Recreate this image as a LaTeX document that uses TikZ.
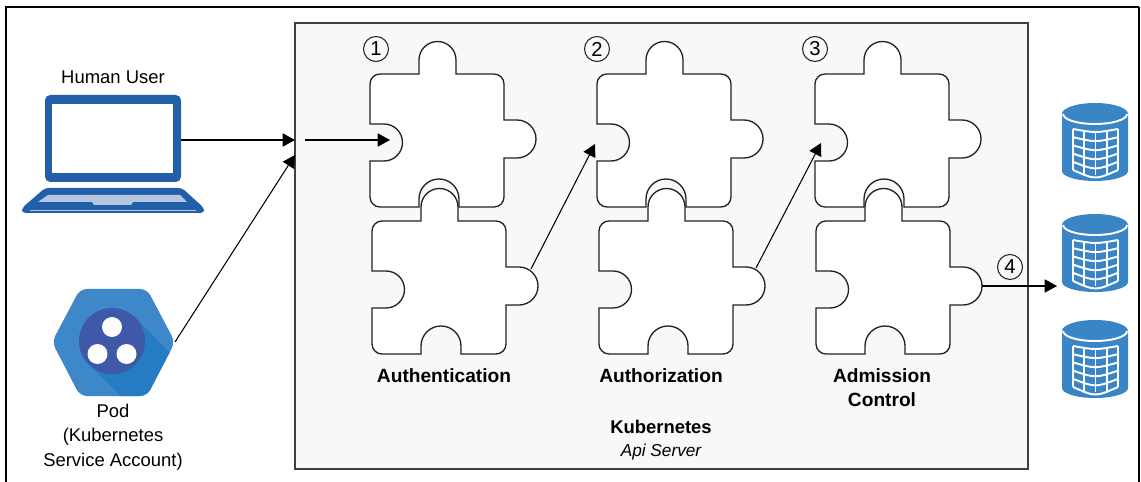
\documentclass[tikz,border=0pt]{standalone}
\usepackage{fontspec}
\setmainfont{Liberation Sans}
\usetikzlibrary{arrows.meta}
\usetikzlibrary{positioning}
\definecolor{laptopblue}{RGB}{33, 96, 168}
\definecolor{keyslight}{RGB}{181, 199, 224}
\definecolor{podblue}{RGB}{62, 136, 201}
\definecolor{podshade}{RGB}{38, 124, 194}
\definecolor{podcore}{RGB}{61, 89, 168}
\definecolor{dbblue}{RGB}{58, 133, 198}
\definecolor{apifill}{RGB}{247, 248, 250}
\definecolor{outline}{RGB}{34, 34, 34}

% one jigsaw piece, #1 = left edge, #2 = top edge of its body
\newcommand{\puzzlepiece}[2]{%
    \draw[piece, shift={(#1,-#2)}]
        (0,-10) arc[start angle=180, end angle=90, radius=10]
        -- (49,0) -- (49,14) arc[start angle=180, end angle=0, radius=18.5] -- (86,0)
        -- (124,0) arc[start angle=90, end angle=0, radius=10]
        -- (134,-46) -- (147,-46) arc[start angle=90, end angle=-90, radius=19] -- (134,-84)
        -- (134,-123) arc[start angle=0, end angle=-90, radius=10]
        -- (89,-133) -- (89,-125) arc[start angle=0, end angle=180, radius=20] -- (49,-133)
        -- (10,-133) arc[start angle=270, end angle=180, radius=10]
        -- (0,-87) -- (14,-87) arc[start angle=-90, end angle=90, radius=18.5] -- (0,-50)
        -- cycle;
}

\tikzset{
    piece/.style   = {fill=white, draw=outline, line width=0.75pt},
    flow/.style    = {-{Triangle[length=7pt, width=7.5pt]}, line width=0.6pt},
    stepno/.style  = {circle, draw=outline, line width=0.6pt, inner sep=0pt,
                      minimum size=0.5cm, font=\fontsize{11.5}{11.5}\selectfont},
    lbl/.style     = {inner sep=0pt, font=\fontsize{10.5}{13.9}\selectfont},
    steplbl/.style = {inner sep=0pt, font=\fontsize{10.9}{13.6}\selectfont\bfseries},
    dbgrid/.style  = {white, line width=1.1pt},
}

\begin{document}
\begin{tikzpicture}[x=0.02cm, y=0.02cm]
    \useasboundingbox (0,0) rectangle (1141,-482);
    % Frame
    \draw[line width=1.6pt] (6,-482) -- (6,-7) -- (1139,-7);
    \draw[line width=0.9pt] (1139,-7) -- (1139,-482);

    % Api server box
    \node[draw=black!75, line width=0.7pt, fill=apifill, minimum width=14.66cm,
          minimum height=8.92cm, inner sep=0pt] (api) at (661.5,-246) {};

    % Human user (laptop)
    \fill[laptopblue, rounded corners=3] (45,-95) rectangle (181,-182);
    \fill[white] (52,-104) rectangle (173,-173);
    \fill[laptopblue, rounded corners=2] (45,-188) -- (182,-188) -- (204,-208) -- (204,-213)
        -- (22,-213) -- (22,-208) -- cycle;
    \fill[keyslight] (48,-195) -- (180,-195) -- (187,-202) -- (133,-202) -- (131,-205)
        -- (94,-205) -- (92,-202) -- (38,-202) -- cycle;
    \draw[keyslight, line width=0.5pt] (30,-210) -- (196,-210);
    \node[lbl] (user-lbl) at (113,-77) {Human User};

    % Pod
    \begin{scope}
        \clip[rounded corners=4] (52,-342) -- (80,-289) -- (147,-289) -- (175,-342)
            -- (147,-396) -- (80,-396) -- cycle;
        \fill[podblue] (40,-280) rectangle (190,-410);
        \fill[podshade] (135.3,-317.7) -- (235.3,-417.7) -- (188.7,-464.3) -- (88.7,-364.3) -- cycle;
    \end{scope}
    \fill[podcore] (112,-341) circle (33);
    \fill[white] (112,-327) circle (10) (97.5,-354) circle (10) (126.5,-354) circle (10);
    \node[lbl, align=center] (pod-lbl) at (113,-437) {Pod\\(Kubernetes\\Service Account)};

    % Puzzle pieces, top row then bottom row
    \puzzlepiece{370}{74}
    \puzzlepiece{597}{74}
    \puzzlepiece{815}{74}
    \puzzlepiece{372}{221}
    \puzzlepiece{599}{221}
    \puzzlepiece{816}{221}

    \node[stepno] (no1) at (376,-49) {1};
    \node[stepno] (no2) at (597,-49) {2};
    \node[stepno] (no3) at (815,-49) {3};
    \node[stepno] (no4) at (1010,-267) {4};

    \node[steplbl] (authn-lbl) at (444,-376) {Authentication};
    \node[steplbl] (authz-lbl) at (661,-376) {Authorization};
    \node[steplbl, align=center] (admit-lbl) at (882,-388) {Admission\\Control};
    \node[steplbl, font=\fontsize{10.5}{12}\selectfont\bfseries] (kube-lbl) at (661,-427) {Kubernetes};
    \node[lbl, font=\fontsize{9.8}{12}\selectfont\itshape, below=0.2cm of kube-lbl] (api-lbl) {Api Server};

    % Databases
    \foreach \ty [count=\i] in {103,214,320} {
        \fill[dbblue] (1062,-\ty-11) -- (1062,-\ty-68)
            arc[start angle=180, end angle=360, x radius=33, y radius=10]
            -- (1128,-\ty-11) arc[start angle=0, end angle=180, x radius=33, y radius=11] -- cycle;
        \draw[white, line width=1.1pt] (1063,-\ty-11) arc[start angle=180, end angle=360, x radius=32, y radius=10];
        \foreach \k in {0,...,5} {
            \pgfmathsetmacro{\gy}{\ty+26+8.2*\k}
            \pgfmathsetmacro{\sag}{2+0.6*\k}
            \draw[dbgrid] (1073,-\gy) .. controls (1095.5,-\gy-2*\sag) .. (1118,-\gy);
        }
        \foreach \dx in {-22.5,-11.25,0,11.25,22.5} {
            \pgfmathsetmacro{\bend}{1-(\dx/22.5)^2}
            \draw[dbgrid] (1095.5+\dx,-\ty-26-2*\bend) -- (1095.5+\dx,-\ty-67-5*\bend);
        }
    }

    % Connection points
    \coordinate (laptop-out) at (181,-140);
    \coordinate (pod-out)    at (175,-342);
    \coordinate (api-in1)    at (295,-140);
    \coordinate (api-in2)    at (295,-155);
    \coordinate (gate)       at (305,-140);
    \coordinate (authn-in)   at (390,-140);
    \coordinate (authn-out)  at (531,-269);
    \coordinate (authz-in)   at (595,-144);
    \coordinate (authz-out)  at (756,-268);
    \coordinate (admit-in)   at (821,-143);
    \coordinate (admit-out)  at (982,-286);
    \coordinate (etcd-in)    at (1057,-286);

    % Request flow
    \draw[flow] (laptop-out) -- (api-in1);
    \draw[flow] (pod-out) -- (api-in2);
    \draw[flow] (gate) -- (authn-in);
    \draw[flow] (authn-out) -- (authz-in);
    \draw[flow] (authz-out) -- (admit-in);
    \draw[flow] (admit-out) -- (etcd-in);
\end{tikzpicture}
\end{document}
